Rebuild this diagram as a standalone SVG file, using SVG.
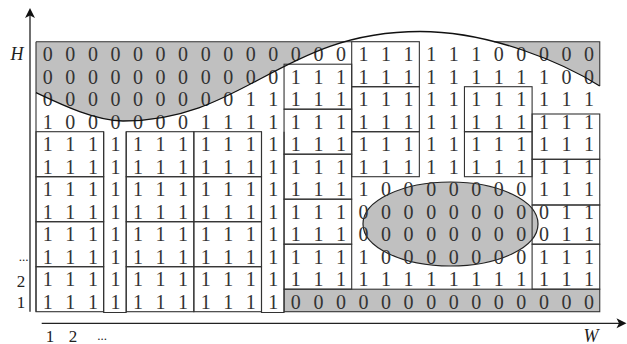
<svg xmlns="http://www.w3.org/2000/svg" width="627" height="344" viewBox="0 0 627 344">
<defs>
<style>
.d{font-family:"Liberation Serif","DejaVu Serif",serif;font-size:20px;fill:#333;text-anchor:middle}
.lb{font-family:"Liberation Serif","DejaVu Serif",serif;font-size:17px;fill:#222;text-anchor:middle}
.it{font-family:"Liberation Serif","DejaVu Serif",serif;font-size:18px;font-style:italic;fill:#222;text-anchor:middle}
.bx{fill:none;stroke:#333;stroke-width:1.1}
.gr{fill:#c0c0c0}
.ln{fill:none;stroke:#333;stroke-width:1.1}
.ax{fill:none;stroke:#222;stroke-width:1.3}
</style>
<clipPath id="clipR"><rect x="36" y="41.7" width="563.75" height="270"/></clipPath>
</defs>
<rect width="627" height="344" fill="#fff"/>

<g id="gray-top">
<path class="gr" clip-path="url(#clipR)" d="M36,92.7 C60,104 95,121 123,121 C244,121 282,31.5 420,31.5 C492,31.5 565,64 599.75,86 L599.75,0 L36,0 Z"/>
<path class="ln" d="M36,41.7 H351.7 M494,41.7 H599.75 V86 M36,41.7 V311.7"/>
</g>

<g id="ellipse">
<ellipse cx="450.5" cy="224" rx="87.5" ry="42" fill="#c0c0c0" stroke="#222" stroke-width="1.2"/>
</g>

<g id="gray-bottom">
<rect class="gr" x="284.05" y="289.2" width="315.7" height="22.5" stroke="#333" stroke-width="1.1"/>
</g>

<g id="boxes">
<rect class="bx" x="351.7" y="41.7" width="67.65" height="45"/>
<rect class="bx" x="284.05" y="64.2" width="67.65" height="45"/>
<rect class="bx" x="351.7" y="86.7" width="67.65" height="45"/>
<rect class="bx" x="464.45" y="86.7" width="67.65" height="45"/>
<rect class="bx" x="351.7" y="131.7" width="67.65" height="45"/>
<rect class="bx" x="464.45" y="131.7" width="67.65" height="45"/>
<rect class="bx" x="284.05" y="109.2" width="67.65" height="45"/>
<rect class="bx" x="284.05" y="154.2" width="67.65" height="45"/>
<rect class="bx" x="284.05" y="199.2" width="67.65" height="45"/>
<rect class="bx" x="284.05" y="244.2" width="67.65" height="45"/>
<rect class="bx" x="36" y="131.7" width="67.65" height="45"/>
<rect class="bx" x="36" y="176.7" width="67.65" height="45"/>
<rect class="bx" x="36" y="221.7" width="67.65" height="45"/>
<rect class="bx" x="36" y="266.7" width="67.65" height="45"/>
<rect class="bx" x="126.2" y="131.7" width="67.65" height="45"/>
<rect class="bx" x="126.2" y="176.7" width="67.65" height="45"/>
<rect class="bx" x="126.2" y="221.7" width="67.65" height="45"/>
<rect class="bx" x="126.2" y="266.7" width="67.65" height="45"/>
<rect class="bx" x="193.85" y="131.7" width="67.65" height="45"/>
<rect class="bx" x="193.85" y="176.7" width="67.65" height="45"/>
<rect class="bx" x="193.85" y="221.7" width="67.65" height="45"/>
<rect class="bx" x="193.85" y="266.7" width="67.65" height="45"/>
<path class="bx" d="M103.65,131.7 V312.5 H126.2 V131.7"/>
<path class="bx" d="M261.5,131.7 V312.5 H284.05 V131.7"/>
<rect class="bx" x="532.1" y="114" width="67.65" height="45.3"/>
<rect class="bx" x="532.1" y="159.3" width="67.65" height="45.7"/>
<rect class="bx" x="532.1" y="205" width="67.65" height="39.2"/>
<rect class="bx" x="532.1" y="244.2" width="67.65" height="45"/>
</g>

<g id="digits">
<text class="d" y="61.2" x="47.8 70.35 92.9 115.45 138 160.55 183.1 205.65 228.2 250.75 273.3 295.85 318.4 340.95 363.5 386.05 408.6 431.15 453.7 476.25 498.8 521.35 543.9 566.45 589">0000000000000011111100000</text>
<text class="d" y="83.7" x="47.8 70.35 92.9 115.45 138 160.55 183.1 205.65 228.2 250.75 273.3 295.85 318.4 340.95 363.5 386.05 408.6 431.15 453.7 476.25 498.8 521.35 543.9 566.45 589">0000000000011111111111100</text>
<text class="d" y="106.2" x="47.8 70.35 92.9 115.45 138 160.55 183.1 205.65 228.2 250.75 273.3 295.85 318.4 340.95 363.5 386.05 408.6 431.15 453.7 476.25 498.8 521.35 543.9 566.45 589">0000000001111111111111111</text>
<text class="d" y="128.7" x="47.8 70.35 92.9 115.45 138 160.55 183.1 205.65 228.2 250.75 273.3 295.85 318.4 340.95 363.5 386.05 408.6 431.15 453.7 476.25 498.8 521.35 543.9 566.45 589">1000000111111111111111111</text>
<text class="d" y="151.2" x="47.8 70.35 92.9 115.45 138 160.55 183.1 205.65 228.2 250.75 273.3 295.85 318.4 340.95 363.5 386.05 408.6 431.15 453.7 476.25 498.8 521.35 543.9 566.45 589">1111111111111111111111111</text>
<text class="d" y="173.7" x="47.8 70.35 92.9 115.45 138 160.55 183.1 205.65 228.2 250.75 273.3 295.85 318.4 340.95 363.5 386.05 408.6 431.15 453.7 476.25 498.8 521.35 543.9 566.45 589">1111111111111111111111111</text>
<text class="d" y="196.2" x="47.8 70.35 92.9 115.45 138 160.55 183.1 205.65 228.2 250.75 273.3 295.85 318.4 340.95 363.5 386.05 408.6 431.15 453.7 476.25 498.8 521.35 543.9 566.45 589">1111111111111110000000111</text>
<text class="d" y="218.7" x="47.8 70.35 92.9 115.45 138 160.55 183.1 205.65 228.2 250.75 273.3 295.85 318.4 340.95 363.5 386.05 408.6 431.15 453.7 476.25 498.8 521.35 543.9 566.45 589">1111111111111100000000011</text>
<text class="d" y="241.2" x="47.8 70.35 92.9 115.45 138 160.55 183.1 205.65 228.2 250.75 273.3 295.85 318.4 340.95 363.5 386.05 408.6 431.15 453.7 476.25 498.8 521.35 543.9 566.45 589">1111111111111100000000011</text>
<text class="d" y="263.7" x="47.8 70.35 92.9 115.45 138 160.55 183.1 205.65 228.2 250.75 273.3 295.85 318.4 340.95 363.5 386.05 408.6 431.15 453.7 476.25 498.8 521.35 543.9 566.45 589">1111111111111110000000111</text>
<text class="d" y="286.2" x="47.8 70.35 92.9 115.45 138 160.55 183.1 205.65 228.2 250.75 273.3 295.85 318.4 340.95 363.5 386.05 408.6 431.15 453.7 476.25 498.8 521.35 543.9 566.45 589">1111111111111111111111111</text>
<text class="d" y="308.7" x="47.8 70.35 92.9 115.45 138 160.55 183.1 205.65 228.2 250.75 273.3 295.85 318.4 340.95 363.5 386.05 408.6 431.15 453.7 476.25 498.8 521.35 543.9 566.45 589">1111111111100000000000000</text>
</g>

<g id="curve">
<path d="M36,92.7 C60,104 95,121 123,121 C244,121 282,31.5 420,31.5 C492,31.5 565,64 599.75,86" fill="none" stroke="#111" stroke-width="1.3"/>
</g>

<g id="axes">
<path class="ax" d="M30,311.7 V14"/>
<path d="M30,8 L35,18 L30,15.5 L25,18 Z" fill="#111"/>
<path class="ax" d="M41.7,323.3 H620"/>
<path d="M626.5,323.3 L616.5,318.3 L619,323.3 L616.5,328.3 Z" fill="#111"/>
</g>

<g id="labels">
<text class="it" x="17" y="60">H</text>
<text class="lb" x="23.5" y="261" style="font-size:13px">...</text>
<text class="lb" x="21" y="287">2</text>
<text class="lb" x="21" y="307.5">1</text>
<text class="lb" x="50" y="341.5">1</text>
<text class="lb" x="73" y="341.5">2</text>
<text class="lb" x="102" y="340" style="font-size:13px">...</text>
<text class="it" x="591" y="341.5">W</text>
</g>
</svg>
